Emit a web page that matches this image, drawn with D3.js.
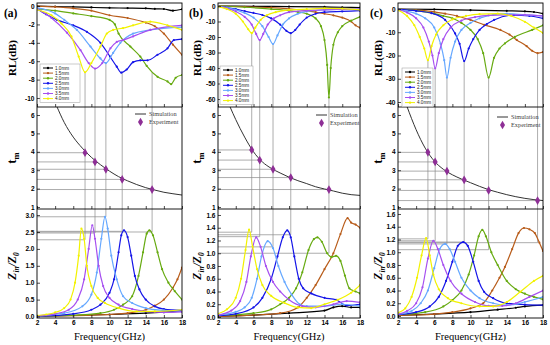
<!DOCTYPE html>
<html><head><meta charset="utf-8">
<script src="https://cdn.jsdelivr.net/npm/d3@7"></script>
<style>body{margin:0;background:#fff} svg{display:block}</style>
</head><body><svg id="chart" width="550" height="345"></svg>
<script>
// ---------- DATA ----------
const thickness = ["1.0mm","1.5mm","2.0mm","2.5mm","3.0mm","3.5mm","4.0mm"];
const freqTicks = [2,4,6,8,10,12,14,16,18];
const rlTicksA = [0,-2,-4,-6,-8,-10];
const rlTicksB = [0,-10,-20,-30,-40,-50,-60];
const rlTicksC = [0,-10,-20,-30,-40];
const tmTicks = [1,2,3,4,5,6];
const zTicksA = [0,0.5,1,1.5,2,2.5,3];
const zTicksBC = [0,0.2,0.4,0.6,0.8,1,1.2,1.4,1.6];

// panel (a) reflection loss, one array per thickness: [GHz, dB]
const rlA = [
 [[2,0],[4,-0.05],[6,-0.1],[8,-0.15],[10,-0.2],[12,-0.22],[14,-0.25],[15,-0.3],[16,-0.32],[17,-0.5],[18,-0.35]],
 [[2,0],[4,-0.1],[6,-0.25],[8,-0.5],[10,-1.0],[12,-1.3],[14,-1.8],[15,-2.2],[16,-3.0],[17,-4.2],[18,-5.3]],
 [[2,-0.3],[4,-0.5],[6,-0.8],[8,-1.1],[10,-1.5],[10.6,-2],[11,-3],[12.3,-4.4],[13.4,-5.5],[14.1,-6.5],[15.3,-7.7],[16.4,-8.2],[16.8,-8.5],[17.3,-7.8],[18,-7.5]],
 [[2,-0.3],[3,-0.9],[4.2,-1.5],[6,-2.1],[7.5,-2.8],[9,-4.0],[10.06,-5.5],[10.8,-6.6],[11.3,-7.25],[11.9,-6.9],[12.6,-6.1],[13.4,-5.9],[14.2,-5.9],[15.3,-5.3],[16.4,-4.6],[17.1,-3.7],[18,-3.6]],
 [[2,-0.2],[4,-0.8],[5,-1.5],[6.4,-2.6],[7.9,-4.4],[9,-5.7],[9.6,-6.2],[10.4,-5.1],[11.2,-4.0],[12.6,-3.0],[14.5,-2.6],[18,-2.3]],
 [[2,-0.3],[3.6,-1.3],[5.3,-2.9],[6.8,-4.8],[7.7,-6.2],[8.4,-6.8],[9.2,-6.2],[10.1,-4.6],[10.8,-3.9],[11.5,-3.7],[12.6,-3.3],[14.5,-2.6],[18,-2.1]],
 [[2,-0.4],[3.6,-1.0],[4.7,-1.9],[5.8,-3.3],[6.6,-5.5],[7.3,-7.2],[8.0,-6.2],[9.0,-4.4],[9.7,-3.0],[10.4,-2.6],[11.5,-2.4],[12.6,-2.1],[14.5,-1.7],[16.4,-2.1],[18,-2.6]]
];
// panel (a) Zin/Z0
const zA = [
 [[2,0.01],[6,0.03],[10,0.06],[14,0.1],[16,0.13],[18,0.16]],
 [[2,0.01],[8,0.04],[12,0.1],[14,0.2],[15,0.32],[16,0.5],[17,0.85],[17.5,1.1],[18,1.45]],
 [[2,0.01],[6,0.04],[9,0.1],[10.5,0.2],[11.5,0.35],[12.5,0.6],[13.2,1.2],[13.7,1.9],[14.1,2.45],[14.4,2.55],[14.8,2.4],[15.3,1.9],[15.8,1.4],[16.5,1.0],[17.2,0.75],[18,0.5]],
 [[2,0.01],[6,0.08],[8,0.2],[9,0.35],[10,0.7],[10.5,1.1],[11,1.9],[11.3,2.4],[11.6,2.55],[12,2.35],[12.4,1.8],[12.8,1.2],[13.3,0.8],[14,0.5],[15,0.3],[16,0.22],[18,0.18]],
 [[2,0.02],[5,0.1],[7,0.3],[8,0.65],[8.6,1.3],[9.1,2.3],[9.5,2.95],[9.8,2.6],[10.2,1.8],[10.8,1.1],[11.5,0.6],[12.5,0.4],[14,0.25],[16,0.18],[18,0.15]],
 [[2,0.02],[4,0.08],[5.5,0.2],[6.5,0.5],[7.2,1.1],[7.7,2.0],[8.1,2.7],[8.4,2.3],[8.8,1.5],[9.3,0.9],[10,0.55],[11,0.35],[12.5,0.22],[14,0.15],[16,0.12],[18,0.14]],
 [[2,0.03],[3,0.06],[4,0.12],[5,0.25],[5.7,0.5],[6.2,1.0],[6.6,1.8],[6.9,2.6],[7.2,2.3],[7.5,1.5],[8,0.9],[8.7,0.55],[9.5,0.4],[11,0.25],[13,0.15],[15,0.15],[18,0.2]]
];
const simA = [[4.2,6.45],[5,5.6],[6,4.8],[7,4.2],[8,3.7],[9,3.3],[10,2.95],[11,2.65],[12,2.42],[13,2.22],[14,2.05],[15,1.92],[16,1.8],[17,1.72],[18,1.65]];
const expA = [[7.3,3.95],[8.4,3.45],[9.6,3.05],[11.4,2.5],[14.7,1.95]];
const guideRlA = [-7.2,-6.8,-6.2,-7.2,-7.2];
const guideZA = [2.27,2.47,2.95,2.52,2.5];

// panel (b)
const rlB = [
 [[2,0],[6,-0.2],[10,-0.4],[14,-0.6],[16,-0.8],[18,-1]],
 [[2,0],[5,-0.5],[8,-1],[10,-1.8],[12,-3],[13,-4],[14,-5],[15,-6],[16,-7.5],[17,-10],[17.5,-12.5],[18,-14]],
 [[2,0],[5,-0.8],[8,-2],[10,-3],[11,-3.8],[12,-5],[13,-8],[13.6,-13],[14,-22],[14.3,-38],[14.5,-59],[14.7,-40],[15,-25],[15.5,-17],[16,-13],[17,-9.5],[18,-7]],
 [[2,-0.3],[3,-1],[4,-2],[5,-3.3],[6,-4.5],[7,-5.8],[8,-8],[9,-12],[9.7,-16],[10.2,-17.5],[10.7,-15.5],[11.2,-12],[12,-7.5],[13,-5],[14,-4],[16,-3.5],[18,-3]],
 [[2,-0.2],[3,-1],[4,-2.5],[5,-4.5],[6,-7.5],[7,-13],[7.7,-20],[8.2,-24.5],[8.7,-19],[9.3,-12],[10,-8],[11,-5],[12,-3.5],[14,-2.5],[16,-2.2],[18,-2]],
 [[2,-0.3],[3,-1.5],[4,-3.5],[5,-7],[5.8,-12],[6.3,-18],[6.7,-22],[7.1,-18],[7.6,-12],[8.3,-8],[9,-6],[10,-4],[12,-3],[14,-2.5],[16,-2.2],[18,-2]],
 [[2,-0.4],[3,-2],[4,-5],[4.8,-10],[5.4,-15],[5.8,-17.5],[6.2,-14],[6.8,-9],[7.5,-6],[8.5,-4],[10,-2.5],[12,-2],[14,-1.5],[16,-1.7],[18,-2.5]]
];
const zB = [
 [[2,0.01],[6,0.03],[10,0.06],[14,0.1],[15,0.15],[16,0.17],[17,0.15],[18,0.15]],
 [[2,0.01],[6,0.03],[9,0.06],[11,0.15],[12,0.3],[13,0.5],[14,0.75],[15,1.0],[15.8,1.3],[16.6,1.55],[17,1.48],[17.5,1.45],[18,1.4]],
 [[2,0.02],[6,0.06],[8,0.12],[9,0.2],[10,0.3],[10.8,0.45],[11.5,0.7],[12.2,1.05],[12.8,1.22],[13.2,1.25],[13.7,1.18],[14.3,1.0],[14.8,0.94],[15.3,0.96],[15.8,0.88],[16.3,0.65],[16.8,0.45],[17.5,0.4],[18,0.37]],
 [[2,0.02],[4,0.05],[6,0.15],[7,0.3],[8,0.6],[8.7,0.95],[9.3,1.25],[9.8,1.36],[10.2,1.25],[10.6,0.95],[11.1,0.6],[11.6,0.45],[12.5,0.37],[14,0.3],[15.3,0.27],[16.5,0.18],[18,0.2]],
 [[2,0.03],[4,0.08],[5,0.15],[5.8,0.3],[6.4,0.6],[6.9,0.95],[7.6,1.19],[8.2,1.08],[8.8,0.8],[9.5,0.55],[10.3,0.35],[11.2,0.2],[12,0.17],[14,0.17],[16,0.2],[18,0.17]],
 [[2,0.03],[3.5,0.1],[4.5,0.25],[5.2,0.55],[5.7,0.95],[6.3,1.25],[6.8,1.1],[7.4,0.8],[8.2,0.55],[9,0.4],[10,0.27],[11.5,0.17],[13,0.15],[15,0.2],[16.5,0.25],[18,0.23]],
 [[2,0.05],[3,0.12],[4,0.3],[4.6,0.6],[5.1,1.05],[5.5,1.37],[5.9,1.1],[6.4,0.75],[7,0.5],[8,0.33],[9.5,0.22],[11,0.15],[12.5,0.14],[14,0.2],[15.5,0.27],[17,0.38],[18,0.5]]
];
const simB = [[3.35,6.45],[4,5.75],[5,4.8],[6,4.0],[7,3.45],[8,3.1],[9,2.85],[10,2.62],[11,2.43],[12,2.27],[13,2.1],[14,1.98],[15,1.87],[16,1.75],[17,1.67],[18,1.63]];
const expB = [[5.8,4.1],[6.7,3.55],[8.2,3.05],[10.2,2.6],[14.5,1.95]];
const guideRlB = [-17.5,-22,-24.5,-17.5,-59];
const guideZB = [1.33,1.26,1.1,1.29,1.0];

// panel (c)
const rlC = [
 [[2,0],[6,-0.2],[10,-0.5],[14,-0.8],[16,-1.0],[17,-1.3],[18,-2]],
 [[2,0],[4,-0.5],[6,-1.2],[7.2,-2],[8.5,-3],[10,-4.7],[11.5,-6.8],[13.3,-9],[14.3,-11],[15.1,-13.3],[16.2,-16],[16.8,-18],[17.4,-19],[18,-18.5]],
 [[2,0],[4,-0.7],[6,-2],[7,-3],[8,-4],[9,-6],[10,-9],[10.8,-13],[11.4,-19],[12,-29.5],[12.6,-21],[13.2,-17],[13.8,-14.8],[14.9,-12],[16.8,-9],[18,-7]],
 [[2,-0.2],[4,-0.8],[5.7,-1.8],[7.2,-4.7],[8.3,-10.5],[8.8,-15],[9.3,-22.4],[9.8,-17],[10.3,-13],[11,-9],[11.8,-6.5],[12.6,-4.7],[14.8,-2.6],[16.5,-3],[18,-4]],
 [[2,-0.3],[3,-1],[4,-2],[5,-4],[6,-8],[6.7,-15],[7.1,-22],[7.4,-29.5],[7.8,-21],[8.3,-14],[9,-9],[10,-6],[11,-4],[12.5,-2.5],[14,-2],[16,-2.5],[18,-3]],
 [[2,-0.3],[3,-1.5],[4,-4],[4.8,-8],[5.4,-14],[5.8,-20],[6.1,-25.5],[6.5,-19],[7,-13],[7.8,-8],[9,-5],[10.5,-3.5],[12,-2.7],[14,-2.5],[16,-2.5],[18,-3]],
 [[2,-0.5],[3,-3],[3.8,-7],[4.4,-12],[4.9,-17],[5.3,-22],[5.7,-16],[6.2,-11],[7,-7],[8,-4.5],[9.5,-3],[11,-2.2],[13,-2],[14.5,-3],[16,-5.5],[17,-8],[18,-10.3]]
];
const zC = [
 [[2,0.01],[6,0.03],[10,0.06],[13,0.1],[15,0.13],[16,0.15],[18,0.17]],
 [[2,0.01],[6,0.03],[8,0.06],[10,0.12],[11.4,0.2],[12.4,0.4],[13.2,0.6],[13.8,0.77],[14.6,1.05],[15.3,1.3],[15.9,1.38],[16.5,1.36],[17.1,1.3],[17.6,1.15],[18,1.02]],
 [[2,0.02],[5,0.06],[7,0.15],[8,0.25],[9,0.4],[9.8,0.65],[10.4,0.95],[10.9,1.25],[11.3,1.35],[11.7,1.25],[12.3,1.0],[13,0.8],[14,0.55],[15,0.42],[16,0.35],[17,0.3],[18,0.26]],
 [[2,0.02],[4,0.06],[5.5,0.15],[6.5,0.3],[7.3,0.55],[8,0.85],[8.6,1.1],[9.2,1.16],[9.7,1.1],[10.3,0.85],[10.9,0.55],[11.5,0.38],[12.5,0.28],[14,0.2],[16,0.18],[18,0.17]],
 [[2,0.03],[3.5,0.08],[4.5,0.2],[5.3,0.4],[6,0.75],[6.6,1.05],[7.2,1.13],[7.7,1.05],[8.3,0.85],[9,0.6],[10,0.4],[11,0.28],[12.5,0.2],[14,0.17],[16,0.22],[18,0.3]],
 [[2,0.03],[3,0.08],[4,0.2],[4.7,0.45],[5.3,0.9],[5.9,1.18],[6.4,1.05],[7,0.8],[7.8,0.55],[9,0.35],[10.5,0.22],[12,0.16],[13.5,0.16],[15,0.2],[16.5,0.3],[18,0.4]],
 [[2,0.05],[2.8,0.12],[3.5,0.3],[4.1,0.6],[4.6,0.95],[5.1,1.22],[5.5,0.95],[5.9,0.65],[6.5,0.42],[7.5,0.28],[9,0.2],[11,0.15],[12.5,0.15],[14,0.22],[15.5,0.38],[17,0.55],[18,0.63]]
];
const simC = [[3.0,6.45],[3.5,5.8],[4,5.2],[5,4.2],[6,3.5],[7,3.05],[8,2.75],[9,2.52],[10,2.32],[11,2.12],[12,1.94],[13,1.8],[14,1.67],[15,1.56],[16,1.47],[17,1.4],[18,1.35]];
const expC = [[5.3,3.97],[6.1,3.45],[7.4,2.95],[9.3,2.48],[12,1.9],[17.4,1.35]];
const guideRlC = [-22,-25.5,-29.5,-22.4,-29.5,-19];
const guideZC = [1.21,1.18,1.13,1.16,1.04,1.15];

// ---------- STYLE / LAYOUT ----------
const colors = ["#000000","#b85c1a","#66aa10","#1515e8","#66a8ff","#a64ff0","#f2f200"];
const rows = {top:[3,107], mid:[107,209], bot:[209,318]};
const serif = "'Liberation Serif','Times New Roman',serif";
const sans = "'Liberation Sans',Arial,sans-serif";

const columns = [
 {label:"(a)", x0:37, x1:182, rl:rlA, z:zA, sim:simA, exp:expA, grl:guideRlA, gz:guideZA,
  rlDom:[-10.98,0.33], rlTicks:rlTicksA, zDom:[-0.044,3.18], zTicks:zTicksA, zFmt:d3.format(".1f"),
  leg:[40,64,40], leg2:[135,114], lblX:12},
 {label:"(b)", x0:218, x1:360, rl:rlB, z:zB, sim:simB, exp:expB, grl:guideRlB, gz:guideZB,
  rlDom:[-65.16,1.935], rlTicks:rlTicksB, zDom:[-0.016,1.694], zTicks:zTicksBC, zFmt:d3.format(".1f"),
  leg:[220,66,33], leg2:[316,115], lblX:197},
 {label:"(c)", x0:398, x1:543, rl:rlC, z:zC, sim:simC, exp:expC, grl:guideRlC, gz:guideZC,
  rlDom:[-42.15,2.58], rlTicks:rlTicksC, zDom:[-0.031,1.678], zTicks:zTicksBC, zFmt:d3.format(".1f"),
  leg:[402,68,31], leg2:[497,117], lblX:378}
];

const svg = d3.select("#chart");
const defs = svg.append("defs");

columns.forEach((col, ci) => {
  const x = d3.scaleLinear().domain([2,18]).range([col.x0, col.x1]);
  const yT = d3.scaleLinear().domain(col.rlDom).range([rows.top[1], rows.top[0]]);
  const yM = d3.scaleLinear().domain([0.891,6.435]).range([rows.mid[1], rows.mid[0]]);
  const yB = d3.scaleLinear().domain(col.zDom).range([rows.bot[1], rows.bot[0]]);
  const g = svg.append("g");

  // clip paths
  const clips = {};
  Object.entries(rows).forEach(([k,r]) => {
    const id = `clip${ci}${k}`;
    defs.append("clipPath").attr("id", id).append("rect")
      .attr("x", col.x0).attr("y", r[0]).attr("width", col.x1-col.x0).attr("height", r[1]-r[0]);
    clips[k] = g.append("g").attr("clip-path", `url(#${id})`);
  });

  // guide lines
  const gl = (sel) => sel.attr("stroke","#8a8a8a").attr("stroke-width",0.7).attr("fill","none");
  col.exp.forEach((e, i) => {
    const f = e[0];
    gl(clips.top.append("line")).attr("x1",x(f)).attr("x2",x(f)).attr("y1",yT(col.grl[i])).attr("y2",rows.top[1]);
    gl(clips.mid.append("line")).attr("x1",x(f)).attr("x2",x(f)).attr("y1",rows.mid[0]).attr("y2",rows.mid[1]);
    gl(clips.mid.append("line")).attr("x1",col.x0).attr("x2",x(f)).attr("y1",yM(e[1])).attr("y2",yM(e[1]));
    gl(clips.bot.append("line")).attr("x1",x(f)).attr("x2",x(f)).attr("y1",rows.bot[0]).attr("y2",yB(col.gz[i]));
    gl(clips.bot.append("line")).attr("x1",col.x0).attr("x2",x(f)).attr("y1",yB(col.gz[i])).attr("y2",yB(col.gz[i]));
  });

  // series
  const drawSeries = (layer, data, yS) => {
    const line = d3.line().x(d=>x(d[0])).y(d=>yS(d[1])).curve(d3.curveMonotoneX);
    data.forEach((s, si) => {
      layer.append("path").attr("d", line(s)).attr("fill","none")
        .attr("stroke", colors[si]).attr("stroke-width", 1.2);
      layer.selectAll(null).data(s).enter().append("circle")
        .attr("cx", d=>x(d[0])).attr("cy", d=>yS(d[1])).attr("r", 1.1).attr("fill", colors[si]);
    });
  };
  drawSeries(clips.top, col.rl, yT);
  drawSeries(clips.bot, col.z, yB);

  // simulation + experiment
  const simLine = d3.line().x(d=>x(d[0])).y(d=>yM(d[1])).curve(d3.curveMonotoneX);
  clips.mid.append("path").attr("d", simLine(col.sim)).attr("fill","none").attr("stroke","#333").attr("stroke-width",1);
  const diamond = d3.symbol().type(d3.symbolDiamond).size(22);
  clips.mid.selectAll(null).data(col.exp).enter().append("path")
    .attr("d", diamond).attr("transform", d=>`translate(${x(d[0])},${yM(d[1])})`).attr("fill","#8e2f96");

  // frame & dividers
  g.append("rect").attr("x",col.x0).attr("y",rows.top[0]).attr("width",col.x1-col.x0)
    .attr("height",rows.bot[1]-rows.top[0]).attr("fill","none").attr("stroke","#000").attr("stroke-width",0.9);
  [rows.mid[0], rows.bot[0]].forEach(yy => g.append("line").attr("x1",col.x0).attr("x2",col.x1)
    .attr("y1",yy).attr("y2",yy).attr("stroke","#000").attr("stroke-width",0.9));

  // axes
  const styleAxis = (ax) => {
    ax.select(".domain").remove();
    ax.selectAll("text").attr("font-family", sans).attr("font-size", 6.5).attr("font-weight","bold").attr("fill","#000");
    ax.selectAll("line").attr("stroke","#000").attr("stroke-width",0.7);
  };
  [[yT, col.rlTicks, d=>String(d)], [yM, tmTicks, d=>String(d)], [yB, col.zTicks, col.zFmt]].forEach(([ys, tk, fmt]) => {
    const ax = g.append("g").attr("transform",`translate(${col.x0},0)`)
      .call(d3.axisLeft(ys).tickValues(tk).tickFormat(fmt).tickSize(-3).tickPadding(2.5));
    styleAxis(ax);
  });
  [rows.top[1], rows.mid[1]].forEach(yy => {
    const ax = g.append("g").attr("transform",`translate(0,${yy})`)
      .call(d3.axisBottom(x).tickValues(freqTicks).tickFormat("").tickSize(-3));
    styleAxis(ax);
  });
  const axB = g.append("g").attr("transform",`translate(0,${rows.bot[1]})`)
    .call(d3.axisBottom(x).tickValues(freqTicks).tickFormat(d=>String(d)).tickSize(-3).tickPadding(2));
  styleAxis(axB);

  // titles
  g.append("text").attr("x",(col.x0+col.x1)/2).attr("y",340).attr("text-anchor","middle")
    .attr("font-family",serif).attr("font-size",10.5).text("Frequency(GHz)");
  g.append("text").attr("x", col.lblX - 8).attr("y", 17).attr("font-family",serif).attr("font-weight","bold")
    .attr("font-size",11.5).text(col.label);
  const rot = (cy) => `translate(${col.lblX+4},${cy}) rotate(-90)`;
  g.append("text").attr("transform", rot(58)).attr("text-anchor","middle").attr("font-family",serif)
    .attr("font-weight","bold").attr("font-size",11).text("RL(dB)");
  const tm = g.append("text").attr("transform", rot(158)).attr("text-anchor","middle").attr("font-family",serif)
    .attr("font-weight","bold").attr("font-size",13);
  tm.append("tspan").text("t");
  tm.append("tspan").attr("font-size",8.5).attr("dy",3).text("m");
  const zt = g.append("text").attr("transform", rot(266)).attr("text-anchor","middle").attr("font-family",serif)
    .attr("font-weight","bold").attr("font-style","italic").attr("font-size",11.5);
  zt.append("tspan").text("Z");
  zt.append("tspan").attr("font-size",7.5).attr("dy",2.5).text("in");
  zt.append("tspan").attr("dy",-2.5).text("/Z");
  zt.append("tspan").attr("font-size",7.5).attr("dy",2.5).text("0");

  // thickness legend
  const [lx, ly, lw] = col.leg;
  const rowH = 5.1;
  g.append("rect").attr("x",lx).attr("y",ly).attr("width",lw).attr("height",rowH*7+3)
    .attr("fill","#fff").attr("stroke","#999").attr("stroke-width",0.5);
  thickness.forEach((t, i) => {
    const yy = ly + 4 + i*rowH;
    g.append("line").attr("x1",lx+3).attr("x2",lx+13).attr("y1",yy).attr("y2",yy)
      .attr("stroke",colors[i]).attr("stroke-width",1);
    g.append("circle").attr("cx",lx+8).attr("cy",yy).attr("r",1.2).attr("fill",colors[i]);
    g.append("text").attr("x",lx+15).attr("y",yy+1.6).attr("font-family",sans).attr("font-size",4.6)
      .attr("fill","#222").text(t);
  });

  // sim/exp legend
  const [mx, my] = col.leg2;
  g.append("line").attr("x1",mx).attr("x2",mx+11).attr("y1",my).attr("y2",my).attr("stroke","#333").attr("stroke-width",1);
  g.append("text").attr("x",mx+14).attr("y",my+2).attr("font-family",serif).attr("font-size",6.3).attr("fill","#444").text("Simulation");
  g.append("path").attr("d",diamond).attr("transform",`translate(${mx+5.5},${my+8})`).attr("fill","#8e2f96");
  g.append("text").attr("x",mx+14).attr("y",my+10).attr("font-family",serif).attr("font-size",6.3).attr("fill","#444").text("Experiment");
});
</script>
</body></html>
